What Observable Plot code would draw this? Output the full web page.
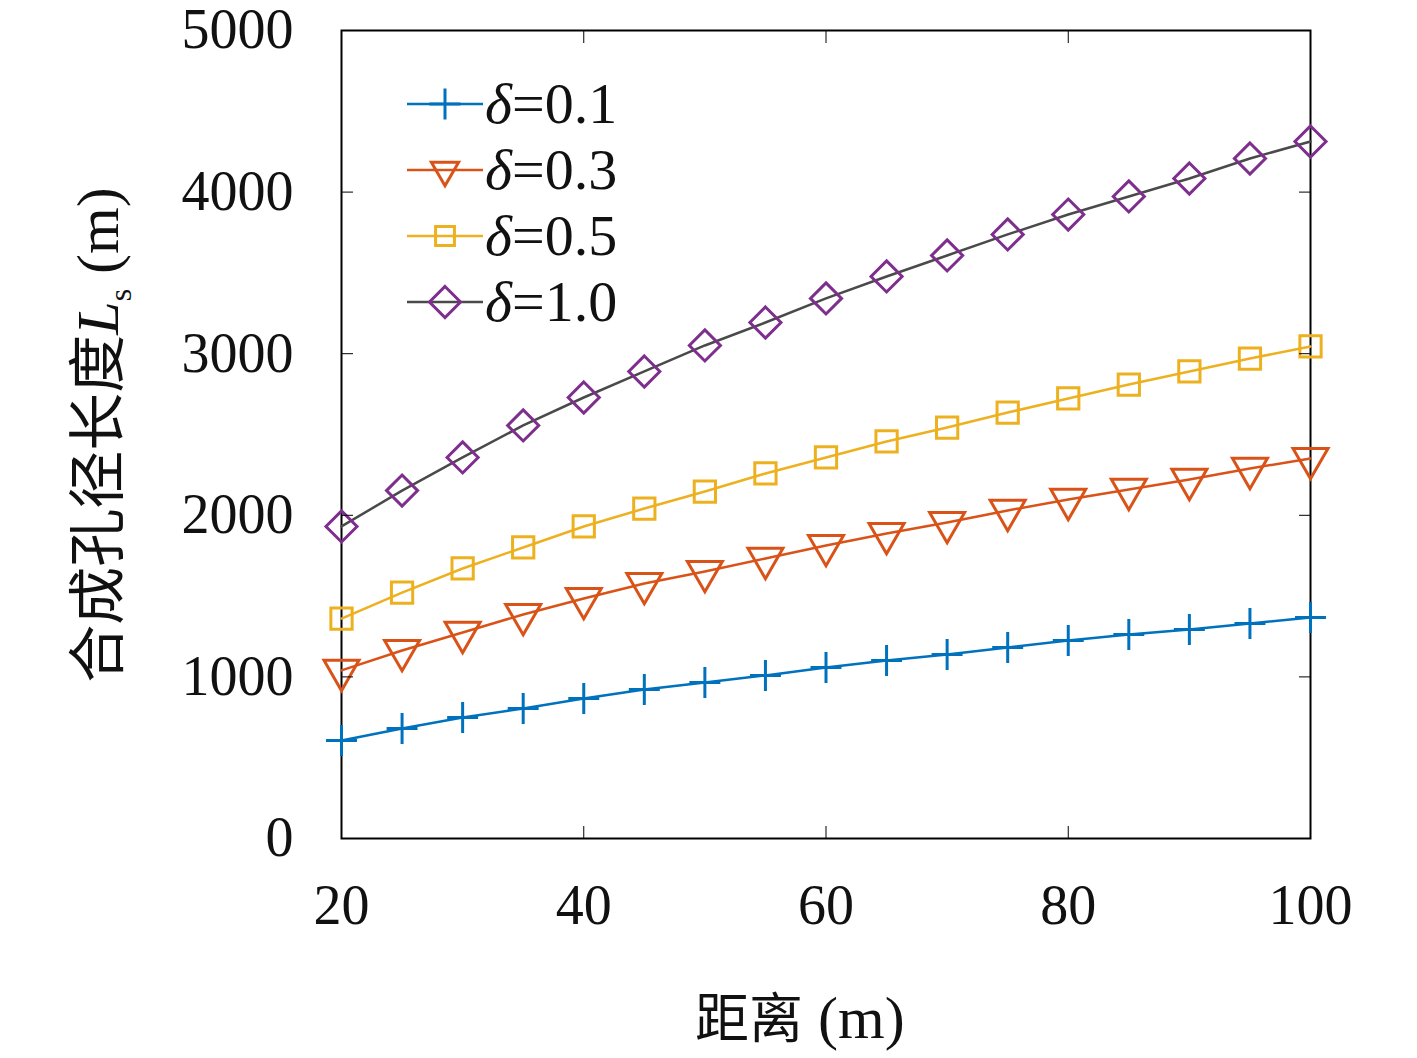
<!DOCTYPE html>
<html><head><meta charset="utf-8">
<script src="https://cdn.jsdelivr.net/npm/d3@7"></script>
<script src="https://cdn.jsdelivr.net/npm/@observablehq/plot@0.6"></script>
<style>
body{margin:0;background:#fff;}
#wrap{position:relative;width:1417px;height:1058px;font-family:"Liberation Serif","DejaVu Serif",serif;}
.ov{position:absolute;font-size:56px;color:#111;white-space:nowrap;}
</style></head><body>
<div id="wrap"></div>
<script>
const distance = [20,25,30,35,40,45,50,55,60,65,70,75,80,85,90,95,100];
const d01 = [606,681,749,804,866,922,965,1009,1058,1101,1139,1182,1225,1262,1293,1330,1368];
const d03 = [1040,1163,1275,1386,1485,1578,1652,1733,1813,1887,1955,2030,2098,2160,2222,2290,2351];
const d05 = [1361,1522,1671,1801,1931,2042,2147,2259,2358,2457,2543,2636,2723,2809,2890,2970,3045];
const d10 = [1931,2153,2358,2556,2729,2890,3051,3193,3342,3478,3608,3738,3861,3973,4084,4208,4313];
const seriesNames = ["0.1","0.3","0.5","1.0"];
const xTicks = [20,40,60,80,100];
const yTicks = [0,1000,2000,3000,4000,5000];

const styles = {
  "0.1":{color:"#0072BD",line:"#0072BD",symbol:"plus",rotate:0,r:10},
  "0.3":{color:"#D95319",line:"#D95319",symbol:"triangle",rotate:180,r:13},
  "0.5":{color:"#EDB120",line:"#EDB120",symbol:"square",rotate:0,r:12},
  "1.0":{color:"#7E2F8E",line:"#4a4a4a",symbol:"diamond2",rotate:0,r:14}
};
const vals = {"0.1":d01,"0.3":d03,"0.5":d05,"1.0":d10};
const rows = seriesNames.flatMap(s => distance.map((x,i)=>({s,x,y:vals[s][i]})));

const marks = [Plot.frame({stroke:"#000",strokeWidth:2})];
for (const s of seriesNames) {
  const st = styles[s];
  const data = rows.filter(d=>d.s===s);
  marks.push(Plot.line(data,{x:"x",y:"y",stroke:st.line,strokeWidth:2.5}));
  marks.push(Plot.dot(data,{x:"x",y:"y",symbol:()=>st.symbol,r:st.r,stroke:st.color,strokeWidth:3,fill:"none",rotate:st.rotate}));
}
const axOpts = {fontSize:56, tickSize:-12, stroke:"#000"};
marks.push(Plot.axisX({...axOpts,ticks:xTicks,anchor:"bottom",tickPadding:58,label:null}));
marks.push(Plot.axisX({...axOpts,ticks:xTicks,anchor:"top",tickFormat:()=>"",label:null}));
marks.push(Plot.axisY({...axOpts,ticks:yTicks,anchor:"left",tickPadding:60,label:null,tickFormat:d=>String(d)}));
marks.push(Plot.axisY({...axOpts,ticks:yTicks,anchor:"right",tickFormat:()=>"",label:null}));

const chart = Plot.plot({
  width:1417,height:1058,
  marginLeft:341,marginRight:107,marginTop:30,marginBottom:220,
  style:{fontFamily:"'Liberation Serif','DejaVu Serif',serif",fontSize:"56px",color:"#111",background:"#fff"},
  x:{domain:[20,100]},
  y:{domain:[0,5000]},
  symbol:{type:"identity"},
  marks
});
const wrap = document.getElementById("wrap");
wrap.appendChild(chart);

const xl = document.createElement("div");
xl.className="ov"; xl.style.left="695px"; xl.style.top="975px"; xl.style.fontSize="60px";
xl.innerHTML='<span style="font-family:\'Noto Sans CJK SC\';font-size:54px">距离</span> (m)';
wrap.appendChild(xl);
const yl = document.createElement("div");
yl.className="ov"; yl.style.fontSize="60px";
yl.style.left="95px"; yl.style.top="435px";
yl.style.transform="translate(-50%,-50%) rotate(-90deg)";
yl.innerHTML='<span style="font-family:\'Noto Sans CJK SC\';font-size:58px">合成孔径长度</span><i>L</i><sub style="font-size:32px">s</sub> (m)';
wrap.appendChild(yl);

seriesNames.forEach((s,i)=>{
  const st = styles[s];
  const y0 = 104 + i*66;
  const ns="http://www.w3.org/2000/svg";
  const svg = document.createElementNS(ns,"svg");
  svg.setAttribute("width",80); svg.setAttribute("height",40);
  svg.style.position="absolute"; svg.style.left="405px"; svg.style.top=(y0-20)+"px";
  const ln = document.createElementNS(ns,"line");
  ln.setAttribute("x1",2);ln.setAttribute("x2",78);ln.setAttribute("y1",20);ln.setAttribute("y2",20);
  ln.setAttribute("stroke",st.line);ln.setAttribute("stroke-width",2.5);
  svg.appendChild(ln);
  const sym = document.createElementNS(ns,"path");
  const sy = d3.symbol({plus:d3.symbolPlus,triangle:d3.symbolTriangle2,square:d3.symbolSquare2,diamond2:d3.symbolDiamond2}[st.symbol], Math.PI*st.r*st.r)();
  sym.setAttribute("d",sy);
  sym.setAttribute("transform",`translate(40,20) rotate(${st.rotate})`);
  sym.setAttribute("fill","none");sym.setAttribute("stroke",st.color);sym.setAttribute("stroke-width",3);
  svg.appendChild(sym);
  wrap.appendChild(svg);
  const t = document.createElement("div");
  t.className="ov"; t.style.left="485px"; t.style.top=(y0-34)+"px"; t.style.fontSize="58px";
  t.innerHTML='<i>δ</i>=' + s;
  wrap.appendChild(t);
});
</script>
</body></html>
